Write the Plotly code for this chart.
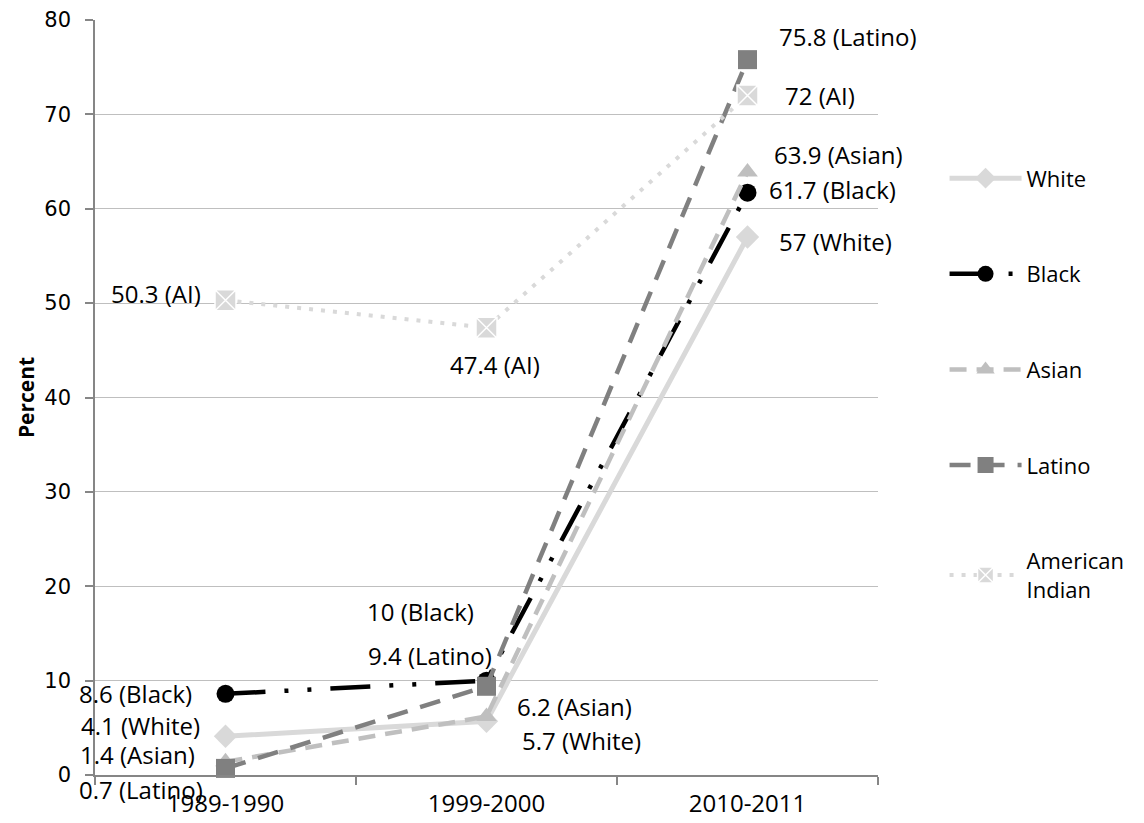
import plotly.graph_objects as go

years = ["1989-1990", "1999-2000", "2010-2011"]
white = [4.1, 5.7, 57]
black = [8.6, 10, 61.7]
asian = [1.4, 6.2, 63.9]
latino = [0.7, 9.4, 75.8]
american_indian = [50.3, 47.4, 72]

series_names = ["White", "Black", "Asian", "Latino", "American<br>Indian"]
label_tags = ["White", "Black", "Asian", "Latino", "AI"]
series_values = [white, black, asian, latino, american_indian]

y_ticks = [0, 10, 20, 30, 40, 50, 60, 70, 80]

styles = [
    dict(color="#D9D9D9", dash="solid", width=5, symbol="diamond", size=18, mline="#D9D9D9"),
    dict(color="#000000", dash="40px,19px,4px,19px,4px,19px", width=4.5, symbol="circle", size=18, mline="#000000"),
    dict(color="#BFBFBF", dash="17px,10px", width=4.5, symbol="triangle-up", size=18, mline="#BFBFBF"),
    dict(color="#808080", dash="21px,13px", width=4.5, symbol="square", size=19, mline="#808080"),
    dict(color="#D9D9D9", dash="4px,8px", width=4, symbol="square-x", size=21, mline="#FFFFFF"),
]

# label offsets (pixels) per series per category
offsets = [
    [(-85, 11), (95, -19), (88, -4)],
    [(-90, 0), (-66, 69), (85, 3)],
    [(-88, 7), (88, 10), (91, 17)],
    [(-85, -21), (-57, 31), (100, 23)],
    [(-70, 7), (8, -37), (72, 0)],
]

FONT = "Open Sans"
fig = go.Figure()
for i, (name, vals, st) in enumerate(zip(series_names, series_values, styles)):
    fig.add_trace(go.Scatter(
        x=years, y=vals, name=name, mode="lines+markers",
        legendgroup=str(i),
        line=dict(color=st["color"], dash=st["dash"], width=st["width"]),
        marker=dict(symbol=st["symbol"], size=st["size"], color=st["color"],
                    line=dict(color=st["mline"], width=1.5 if st["symbol"] == "square-x" else 0)),
        cliponaxis=False,
    ))

annotations = []
for i, (tag, vals) in enumerate(zip(label_tags, series_values)):
    for j, v in enumerate(vals):
        dx, dy = offsets[i][j]
        annotations.append(dict(
            x=years[j], y=v, xref="x", yref="y", text=f"{v:g} ({tag})",
            showarrow=False, xshift=dx, yshift=dy, xanchor="center", yanchor="middle",
            font=dict(family=FONT, size=24, color="#000000"),
        ))

fig.update_layout(
    width=1144, height=823,
    margin=dict(l=95, r=266, t=20, b=48),
    paper_bgcolor="white", plot_bgcolor="white",
    showlegend=True,
    legend=dict(
        x=1.085, y=0.818, xanchor="left", yanchor="top",
        font=dict(family=FONT, size=22, color="#000000"),
        tracegroupgap=64, traceorder="grouped", itemsizing="trace",
        bgcolor="rgba(0,0,0,0)", itemwidth=72,
    ),
    annotations=annotations,
    xaxis=dict(
        type="category", range=[-0.5, 2.5], automargin=False,
        showline=True, linecolor="#868686", linewidth=1.5,
        ticks="outside", tickson="boundaries", ticklen=8, tickcolor="#868686", tickwidth=1.5,
        tickfont=dict(family=FONT, size=24, color="#000000"),
        ticklabelstandoff=6,
        showgrid=False, zeroline=False,
    ),
    yaxis=dict(
        range=[0, 80], tickvals=y_ticks, automargin=False,
        showline=True, linecolor="#868686", linewidth=1.5,
        ticks="outside", ticklen=8, tickcolor="#868686", tickwidth=1.5,
        tickfont=dict(family="DejaVu Sans", size=21, color="#000000"),
        showgrid=True, gridcolor="#BFBFBF", gridwidth=1, zeroline=False,
        title=dict(text="<b>Percent</b>", font=dict(family=FONT, size=21, color="#000000"), standoff=4),
        ticklabelstandoff=10,
    ),
)

fig.write_html("out.html")
